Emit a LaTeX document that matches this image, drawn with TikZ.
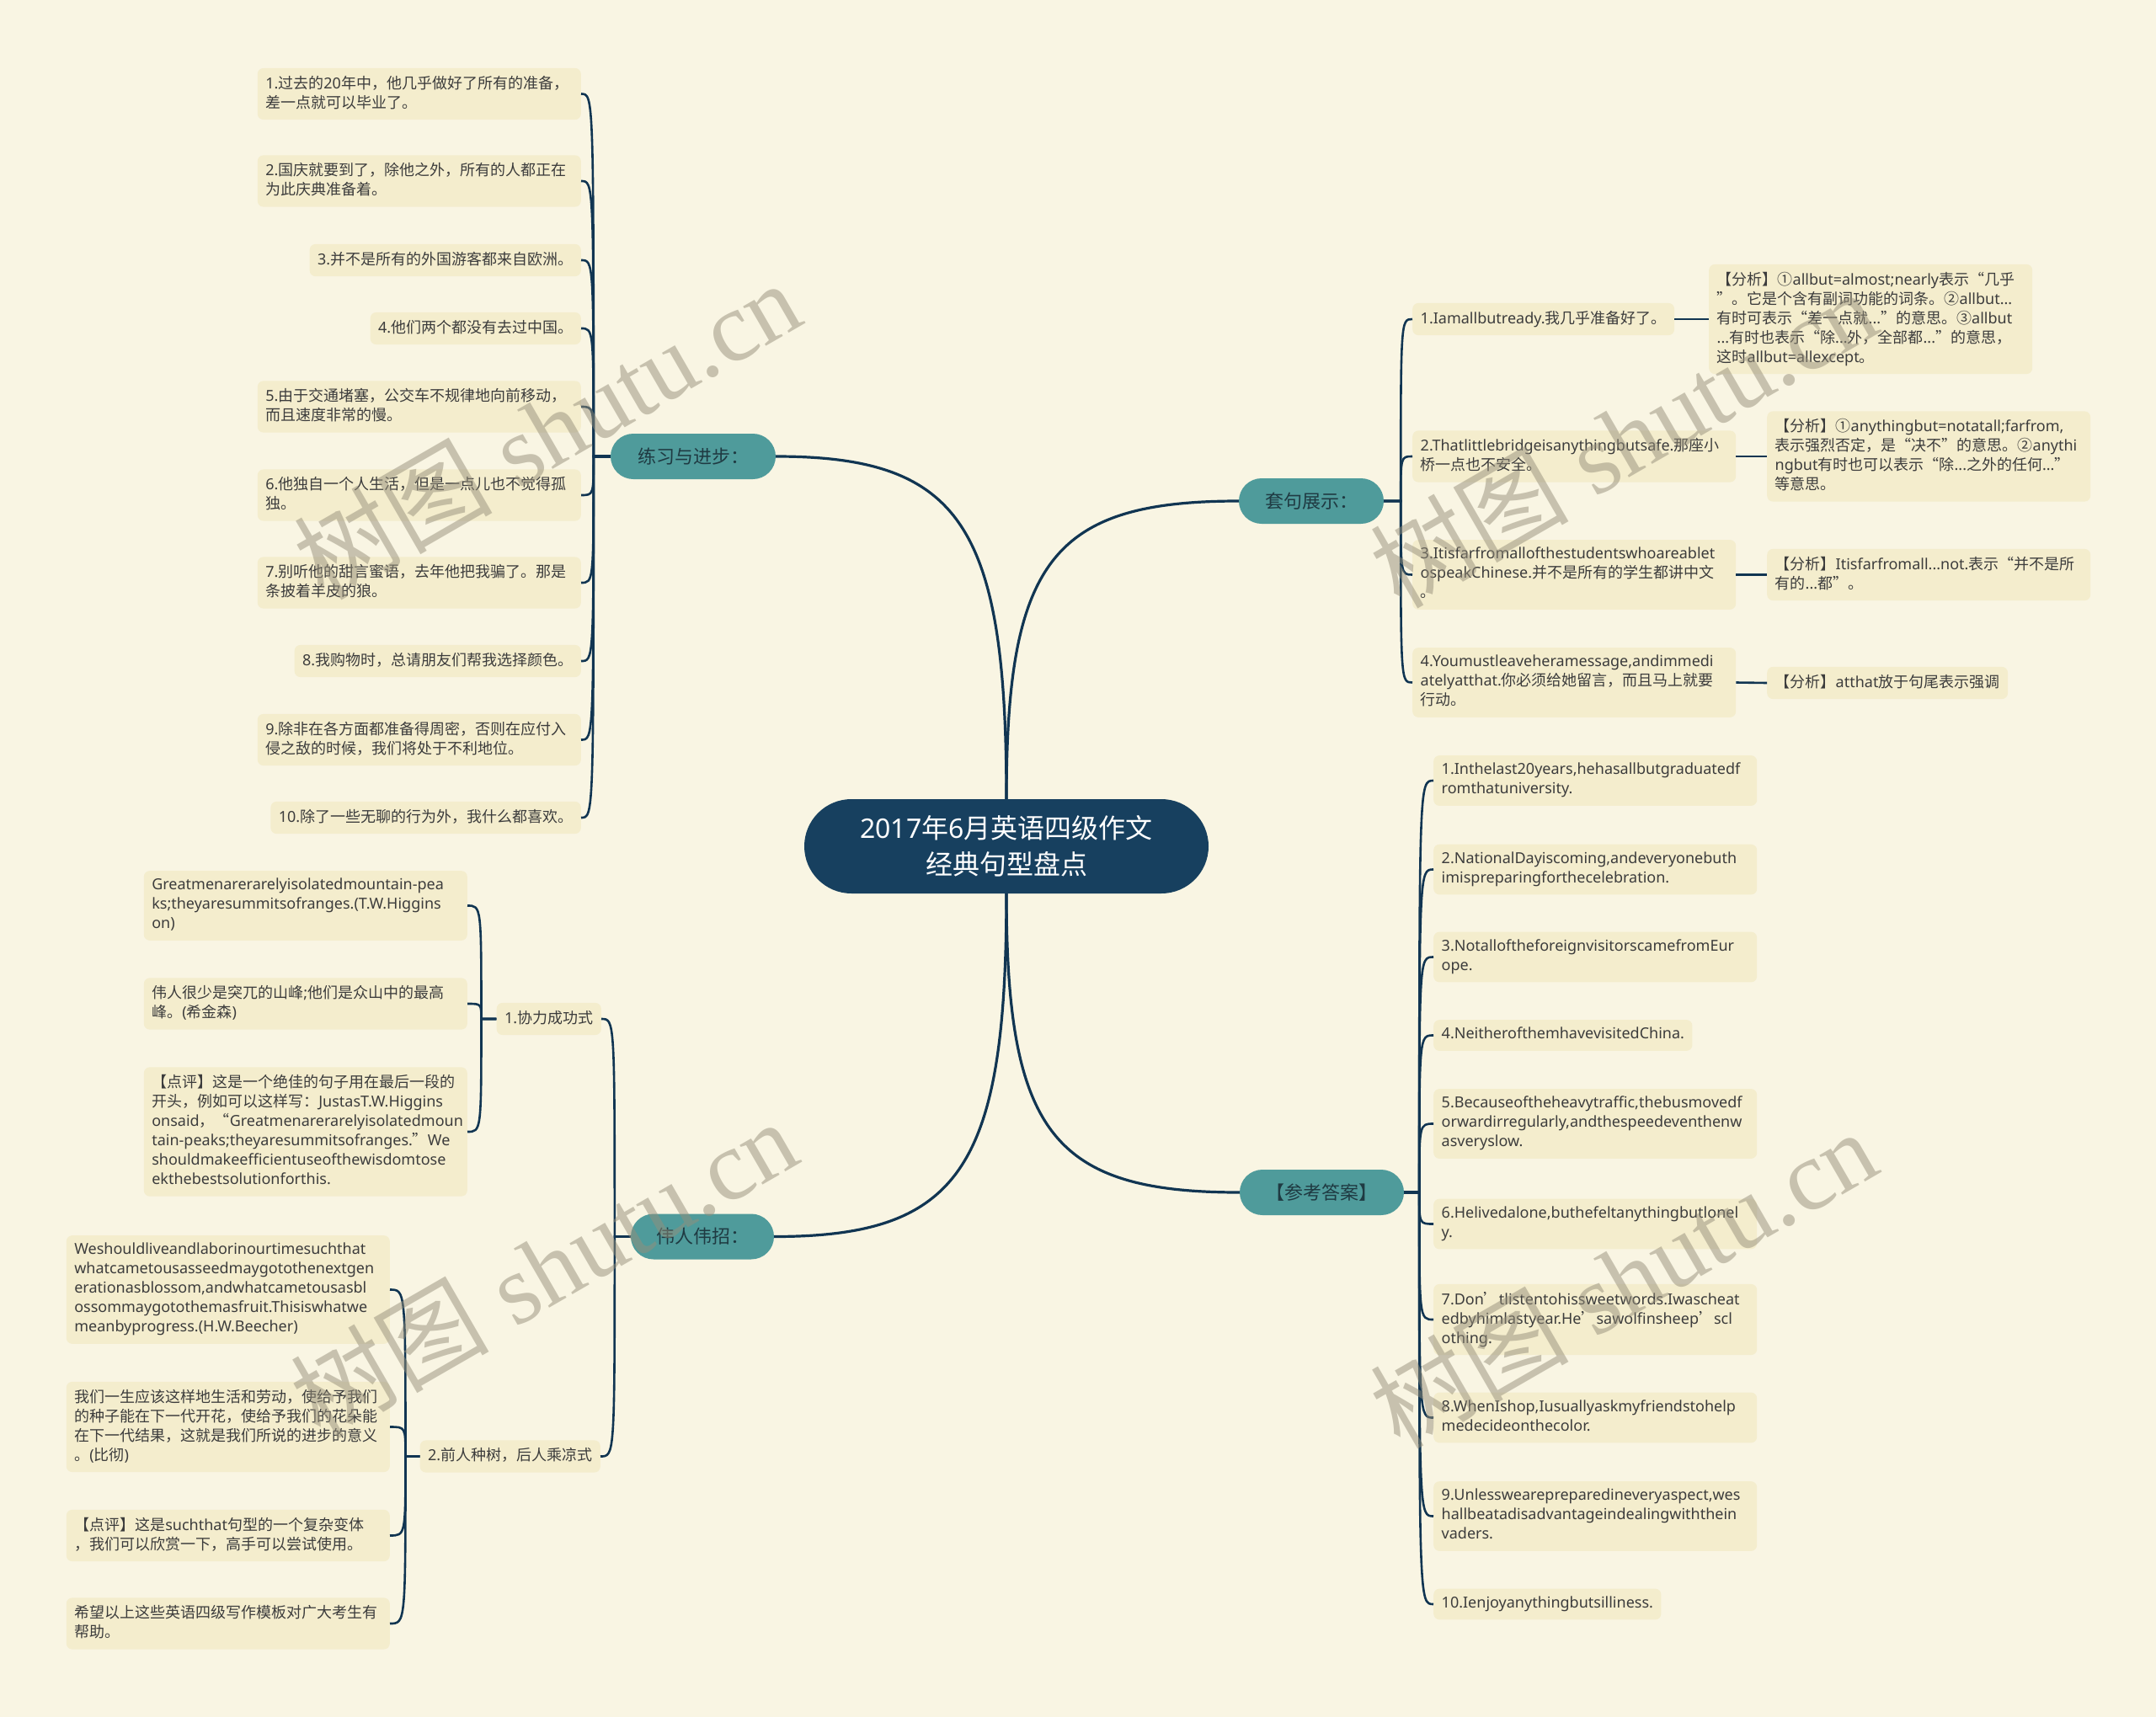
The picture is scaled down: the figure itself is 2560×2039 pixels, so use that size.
\documentclass[tikz,border=0pt]{standalone}
\usepackage{fontspec}
\setmainfont{Noto Sans}
\newfontfamily\latinfont{Noto Sans}
\newfontfamily\cjk{Noto Sans CJK SC}
\newfontfamily\wmserif{Liberation Serif}
\usetikzlibrary{calc}
\newXeTeXintercharclass\cjkcls
\newcount\cjkcnt
\def\setcjkrange#1#2{\cjkcnt=#1\relax\loop\XeTeXcharclass\cjkcnt=\cjkcls\relax\ifnum\cjkcnt<#2\relax\advance\cjkcnt by 1\relax\repeat}
\setcjkrange{"3000}{"303F}
\setcjkrange{"4E00}{"9FFF}
\setcjkrange{"FF00}{"FFEF}
\setcjkrange{"2460}{"24FF}
\setcjkrange{"2018}{"201D}
\XeTeXinterchartoks 0 \cjkcls = {\cjk}
\XeTeXinterchartoks 4095 \cjkcls = {\cjk}
\XeTeXinterchartoks \cjkcls 0 = {\latinfont}
\XeTeXinterchartoks \cjkcls 4095 = {\latinfont}
\XeTeXinterchartokenstate=1
\definecolor{bgc}{HTML}{F9F5E3}
\definecolor{leafc}{HTML}{F4EDCD}
\definecolor{linec}{HTML}{113552}
\definecolor{centerc}{HTML}{17405F}
\definecolor{tealc}{HTML}{4F9B9B}
\definecolor{tealtxt}{HTML}{1F3A42}
\definecolor{txtc}{HTML}{3C3C3C}
\definecolor{wmc}{HTML}{968F7A}
\newcommand\leaffont{\fontsize{18}{23}\selectfont\hyphenpenalty=10000\exhyphenpenalty=10000}
\newcommand\mystrut{\rule[-5pt]{0pt}{18pt}}
\begin{document}
\begin{tikzpicture}[x=1pt,y=-1pt,
  leaf/.style={fill=leafc, rounded corners=7pt, inner xsep=9.5pt, inner ysep=9pt, align=left, text=txtc, font=\leaffont, execute at begin node=\mystrut, execute at end node=\mystrut},
  wleaf/.style={leaf, text width=365pt},
  topic/.style={fill=tealc, text=tealtxt, rounded corners=27pt, minimum height=54pt, inner xsep=0pt, font=\fontsize{22}{26}\selectfont},
  root/.style={fill=centerc, text=white, rounded corners=56pt, minimum width=480pt, minimum height=112pt, align=center, font=\fontsize{32}{43}\selectfont},
  trunk/.style={draw=linec, line width=3.2pt},
  branch/.style={draw=linec, line width=2.6pt},
  wm/.style={text=wmc, text opacity=0.5, rotate=30, font=\fontsize{118}{118}\selectfont}
]
\path[fill=bgc] (0,0) rectangle (2560,2039);

% root and main topics
\node[root] (C) at (1195,1005) {2017年6月英语四级作文\\经典句型盘点};
\node[topic, minimum width=196pt] (LT) at (823,542) {练习与进步：};
\node[topic, minimum width=172pt] (T) at (1557,595) {套句展示：};
\node[topic, minimum width=195pt] (R) at (1569.5,1416) {【参考答案】};
\node[topic, minimum width=170pt] (W) at (834,1468.5) {伟人伟招：};

% 练习与进步
\node[wleaf, anchor=east] (L1) at (690,111.5) {1.过去的20年中，他几乎做好了所有的准备，\\差一点就可以毕业了。};
\node[wleaf, anchor=east] (L2) at (690,215) {2.国庆就要到了，除他之外，所有的人都正在\\为此庆典准备着。};
\node[leaf, anchor=east] (L3) at (690,309) {3.并不是所有的外国游客都来自欧洲。};
\node[leaf, anchor=east] (L4) at (690,390) {4.他们两个都没有去过中国。};
\node[wleaf, anchor=east] (L5) at (690,483) {5.由于交通堵塞，公交车不规律地向前移动，\\而且速度非常的慢。};
\node[wleaf, anchor=east] (L6) at (690,588) {6.他独自一个人生活，但是一点儿也不觉得孤\\独。};
\node[wleaf, anchor=east] (L7) at (690,692) {7.别听他的甜言蜜语，去年他把我骗了。那是\\条披着羊皮的狼。};
\node[leaf, anchor=east] (L8) at (690,785) {8.我购物时，总请朋友们帮我选择颜色。};
\node[wleaf, anchor=east] (L9) at (690,878.5) {9.除非在各方面都准备得周密，否则在应付入\\侵之敌的时候，我们将处于不利地位。};
\node[leaf, anchor=east] (L10) at (690,971) {10.除了一些无聊的行为外，我什么都喜欢。};

% 伟人伟招
\node[leaf, anchor=east] (WA) at (714,1210) {1.协力成功式};
\node[leaf, anchor=east] (WB) at (713,1729.5) {2.前人种树，后人乘凉式};
\node[wleaf, anchor=east] (WA1) at (555,1075.5) {Greatmenarerarelyisolatedmountain-pea\\ks;theyaresummitsofranges.(T.W.Higgins\\on)};
\node[wleaf, anchor=east] (WA2) at (555,1192) {伟人很少是突兀的山峰;他们是众山中的最高\\峰。(希金森)};
\node[wleaf, anchor=east] (WA3) at (555,1344) {【点评】这是一个绝佳的句子用在最后一段的\\开头，例如可以这样写：JustasT.W.Higgins\\onsaid，“Greatmenarerarelyisolatedmoun\\tain-peaks;theyaresummitsofranges.”We\\shouldmakeefficientuseofthewisdomtose\\ekthebestsolutionforthis.};
\node[wleaf, anchor=east] (WB1) at (463,1531.5) {Weshouldliveandlaborinourtimesuchthat\\whatcametousasseedmaygotothenextgen\\erationasblossom,andwhatcametousasbl\\ossommaygotothemasfruit.Thisiswhatwe\\meanbyprogress.(H.W.Beecher)};
\node[wleaf, anchor=east] (WB2) at (463,1694.5) {我们一生应该这样地生活和劳动，使给予我们\\的种子能在下一代开花，使给予我们的花朵能\\在下一代结果，这就是我们所说的进步的意义\\。(比彻)};
\node[wleaf, anchor=east] (WB3) at (463,1823.5) {【点评】这是suchthat句型的一个复杂变体\\，我们可以欣赏一下，高手可以尝试使用。};
\node[wleaf, anchor=east] (WB4) at (463,1928) {希望以上这些英语四级写作模板对广大考生有\\帮助。};

% 套句展示
\node[leaf, anchor=west] (TA1) at (1677,379) {1.Iamallbutready.我几乎准备好了。};
\node[wleaf, anchor=west] (TA2) at (1677,542) {2.Thatlittlebridgeisanythingbutsafe.那座小\\桥一点也不安全。};
\node[wleaf, anchor=west] (TA3) at (1677,682.5) {3.Itisfarfromallofthestudentswhoareablet\\ospeakChinese.并不是所有的学生都讲中文\\。};
\node[wleaf, anchor=west] (TA4) at (1677,810.5) {4.Youmustleaveheramessage,andimmedi\\atelyatthat.你必须给她留言，而且马上就要\\行动。};
\node[wleaf, anchor=west] (TB1) at (2029,379) {【分析】①allbut=almost;nearly表示“几乎\\”。它是个含有副词功能的词条。②allbut...\\有时可表示“差一点就...”的意思。③allbut\\...有时也表示“除...外，全部都...”的意思，\\这时allbut=allexcept。};
\node[wleaf, anchor=west] (TB2) at (2098,542) {【分析】①anythingbut=notatall;farfrom,\\表示强烈否定，是“决不”的意思。②anythi\\ngbut有时也可以表示“除...之外的任何...”\\等意思。};
\node[wleaf, anchor=west] (TB3) at (2098,682.5) {【分析】Itisfarfromall...not.表示“并不是所\\有的...都”。};
\node[leaf, anchor=west] (TB4) at (2098,811) {【分析】atthat放于句尾表示强调};

% 参考答案
\node[wleaf, anchor=west] (RA1) at (1702,927) {1.Inthelast20years,hehasallbutgraduatedf\\romthatuniversity.};
\node[wleaf, anchor=west] (RA2) at (1702,1032.5) {2.NationalDayiscoming,andeveryonebuth\\imispreparingforthecelebration.};
\node[wleaf, anchor=west] (RA3) at (1702,1136.5) {3.NotalloftheforeignvisitorscamefromEur\\ope.};
\node[leaf, anchor=west] (RA4) at (1702,1229.5) {4.NeitherofthemhavevisitedChina.};
\node[wleaf, anchor=west] (RA5) at (1702,1334.5) {5.Becauseoftheheavytraffic,thebusmovedf\\orwardirregularly,andthespeedeventhenw\\asveryslow.};
\node[wleaf, anchor=west] (RA6) at (1702,1453.5) {6.Helivedalone,buthefeltanythingbutlonel\\y.};
\node[wleaf, anchor=west] (RA7) at (1702,1567) {7.Don’tlistentohissweetwords.Iwascheat\\edbyhimlastyear.He’sawolfinsheep’scl\\othing.};
\node[wleaf, anchor=west] (RA8) at (1702,1683.5) {8.WhenIshop,Iusuallyaskmyfriendstohelp\\medecideonthecolor.};
\node[wleaf, anchor=west] (RA9) at (1702,1800.5) {9.Unlesswearepreparedineveryaspect,wes\\hallbeatadisadvantageindealingwiththein\\vaders.};
\node[leaf, anchor=west] (RA10) at (1702,1905) {10.Ienjoyanythingbutsilliness.};

% root connectors
\draw[trunk] (C.north) .. controls ($(C.north)!0.8!(C.north |- LT.east)$) and ($(LT.east)!0.8!(C.north |- LT.east)$) .. (LT.east);
\draw[trunk] (C.north) .. controls ($(C.north)!0.8!(C.north |- T.west)$) and ($(T.west)!0.8!(C.north |- T.west)$) .. (T.west);
\draw[trunk] (C.south) .. controls ($(C.south)!0.8!(C.south |- R.west)$) and ($(R.west)!0.8!(C.south |- R.west)$) .. (R.west);
\draw[trunk] (C.south) .. controls ($(C.south)!0.8!(C.south |- W.east)$) and ($(W.east)!0.8!(C.south |- W.east)$) .. (W.east);

% bus points
\coordinate (LTb) at ($(LT.west)+(-20,0)$);
\coordinate (Wb) at ($(W.west)+(-19,0)$);
\coordinate (WAb) at ($(WA.west)+(-18,0)$);
\coordinate (WBb) at ($(WB.west)+(-17,0)$);
\coordinate (Tb) at ($(T.east)+(20,0)$);
\coordinate (Rb) at ($(R.east)+(18,0)$);

\foreach \n in {L1,L2,L3,L4,L5,L6,L7,L8,L9,L10}
  \draw[branch] (LT.west) -- (LTb) .. controls (LTb |- \n.east) and (LTb |- \n.east) .. (\n.east);
\foreach \n in {WA,WB}
  \draw[branch] (W.west) -- (Wb) .. controls (Wb |- \n.east) and (Wb |- \n.east) .. (\n.east);
\foreach \n in {WA1,WA2,WA3}
  \draw[branch] (WA.west) -- (WAb) .. controls (WAb |- \n.east) and (WAb |- \n.east) .. (\n.east);
\foreach \n in {WB1,WB2,WB3,WB4}
  \draw[branch] (WB.west) -- (WBb) .. controls (WBb |- \n.east) and (WBb |- \n.east) .. (\n.east);
\foreach \n in {TA1,TA2,TA3,TA4}
  \draw[branch] (T.east) -- (Tb) .. controls (Tb |- \n.west) and (Tb |- \n.west) .. (\n.west);
\foreach \n in {RA1,RA2,RA3,RA4,RA5,RA6,RA7,RA8,RA9,RA10}
  \draw[branch] (R.east) -- (Rb) .. controls (Rb |- \n.west) and (Rb |- \n.west) .. (\n.west);
\draw[branch] (TA1.east) -- (TB1.west);
\draw[branch] (TA2.east) -- (TB2.west);
\draw[branch] (TA3.east) -- (TB3.west);
\draw[branch] (TA4.east) -- (TB4.west);

% watermarks
\node[wm] (wm1) at (649,510) {树图 {\wmserif shutu.cn}};
\node[wm] (wm2) at (645,1506) {树图 {\wmserif shutu.cn}};
\node[wm] (wm3) at (1927,520) {树图 {\wmserif shutu.cn}};
\node[wm] (wm4) at (1927,1518) {树图 {\wmserif shutu.cn}};
\end{tikzpicture}
\end{document}
